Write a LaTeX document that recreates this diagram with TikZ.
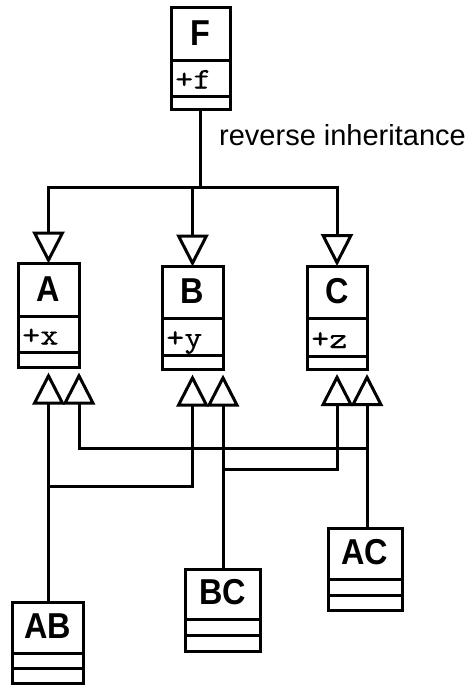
\documentclass[tikz,border=0pt]{standalone}
\usepackage{fontspec}
\usepackage{graphicx}
\usetikzlibrary{arrows.meta}
\newfontfamily\titlefont{Liberation Sans}
\newfontfamily\lblfont{Liberation Sans}
\newfontfamily\attrfont{lmmono10-regular}[Extension=.otf, FakeBold=0.4]
\tikzset{
  clsbox/.style={draw, line width=3pt, outer sep=0pt, inner sep=0pt},
  clsline/.style={line width=3pt},
  titletext/.style={inner sep=0pt, anchor=base, font=\titlefont\bfseries\fontsize{36}{36}\selectfont},
  attrtext/.style={inner sep=0pt, anchor=base west, xshift=4pt, font=\attrfont\fontsize{30}{30}\selectfont},
  lbltext/.style={inner sep=0pt, anchor=base west, font=\lblfont\fontsize{29}{29}\selectfont},
  inh/.style={line width=3pt, -{Triangle[open, length=32pt, width=32pt]}},
  conn/.style={line width=3pt},
}
% name, cx, top, width, sep1, sep2, bottom, title, attr
\newcommand\umlcls[9]{%
  \node[clsbox, minimum width=#4pt, minimum height=#7pt-#3pt, anchor=north] (#1) at (#2,#3) {};
  \draw[clsline] (#1.west |- 0,#5) -- (#1.east |- 0,#5);
  \draw[clsline] (#1.west |- 0,#6) -- (#1.east |- 0,#6);
  \node[titletext] (#1-title) at (#2,#5-15) {\scalebox{0.9}[1]{#8}};
  \if\relax\detokenize{#9}\relax\else
    \node[attrtext] (#1-attr) at (#1.west |- 0,#6-8) {\scalebox{1.15}[1]{#9}};
  \fi
}
\begin{document}
\begin{tikzpicture}[x=1pt, y=-1pt]
  \fill[white] (0,0) rectangle (465,685);
  \useasboundingbox (0,0) rectangle (465,685);

  \umlcls{F}{200.5}{7.5}{59}{61}{96.5}{109.5}{F}{+f}
  \umlcls{A}{48.5}{263.5}{61}{316.5}{352.5}{367.5}{A}{+x}
  \umlcls{B}{192.5}{266.5}{61}{318}{355}{369.5}{B}{+y}
  \umlcls{C}{337}{266}{60}{318}{356}{369}{C}{+z}
  \umlcls{AB}{48}{602}{71}{653}{668}{683}{AB}{}
  \umlcls{BC}{222.5}{569}{75}{619}{635}{651}{BC}{}
  \umlcls{AC}{365}{528}{74}{579}{595}{610}{AC}{}

  \node[lbltext] (lbl) at (219,145) {reverse inheritance};

  % inheritance from F
  \coordinate (bar) at (0,187);
  \draw[inh] (F.south) |- (A.north |- bar) -- (A.north);
  \draw[inh] (F.south) |- (B.north |- bar) -- (B.north);
  \draw[inh] (F.south) |- (C.north |- bar) -- (C.north);

  % targets below A, B, C
  \coordinate (A-l) at ([yshift=-5pt]A.south);
  \coordinate (A-r) at ([yshift=-5pt]A.south east);
  \coordinate (B-l) at ([yshift=-5pt]B.south);
  \coordinate (B-r) at ([yshift=-5pt]B.south east);
  \coordinate (C-l) at ([yshift=-5pt]C.south);
  \coordinate (C-r) at ([yshift=-5pt]C.south east);

  % AB
  \draw[inh] (A-l |- AB.north) -- (A-l);
  \coordinate (jAB) at (A-l |- 0,486);
  \draw[inh] (jAB) -| (B-l);
  % AC
  \draw[inh] (C-r |- AC.north) -- (C-r);
  \coordinate (jAC) at (C-r |- 0,448);
  \draw[inh] (jAC) -| (A-r);
  % BC
  \draw[inh] (B-r |- BC.north) -- (B-r);
  \coordinate (jBC) at (B-r |- 0,469);
  \draw[inh] (jBC) -| (C-l);
\end{tikzpicture}
\end{document}
